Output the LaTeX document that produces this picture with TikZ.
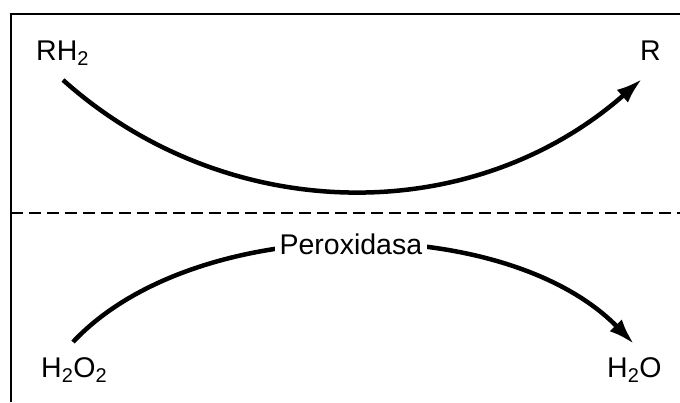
\documentclass[tikz,border=0pt]{standalone}
\usepackage{fontspec}
\setmainfont{Liberation Sans}
\usetikzlibrary{arrows.meta}
\begin{document}
\begin{tikzpicture}[x=1pt,y=-1pt,
  lbl/.style={inner sep=0pt, font=\fontsize{28.5}{32}\selectfont},
  flow/.style={line width=4.5pt, -{Latex[length=26pt,width=17pt]}},
  frame/.style={line width=2.5pt},
  divider/.style={line width=2.5pt, dash pattern=on 12pt off 6pt}]
\useasboundingbox (0,0) rectangle (680,402);
% frame
\coordinate (tl) at (11,14);
\coordinate (tr) at (680,14);
\coordinate (bl) at (11,402);
\coordinate (dl) at (11,213);
\coordinate (dr) at (680,213);
\draw[frame] (bl) -- (tl) -- (tr);
\draw[divider] (dl) -- (dr);
% labels
\node[lbl, anchor=base west] (rh2) at (36,60) {RH\textsubscript{2}};
\node[lbl, anchor=base west] (r) at (640,60) {R};
\node[lbl, anchor=base west] (h2o2) at (41,377) {H\textsubscript{2}O\textsubscript{2}};
\node[lbl, anchor=base west] (h2o) at (607,377) {H\textsubscript{2}O};
% curve ends
\coordinate (s1) at (63,80);
\coordinate (e1) at (642,79);
\coordinate (s2) at (73,342);
\coordinate (e2) at (634,344);
% top curve
\draw[flow] (s1) .. controls (225,225) and (470,230) .. (e1);
% bottom curve
\draw[flow] (s2) .. controls (195,212) and (505,212) .. node[lbl, pos=0.5, fill=white, inner xsep=5pt, inner ysep=3pt] (perox) {Peroxidasa} (e2);
\end{tikzpicture}
\end{document}
